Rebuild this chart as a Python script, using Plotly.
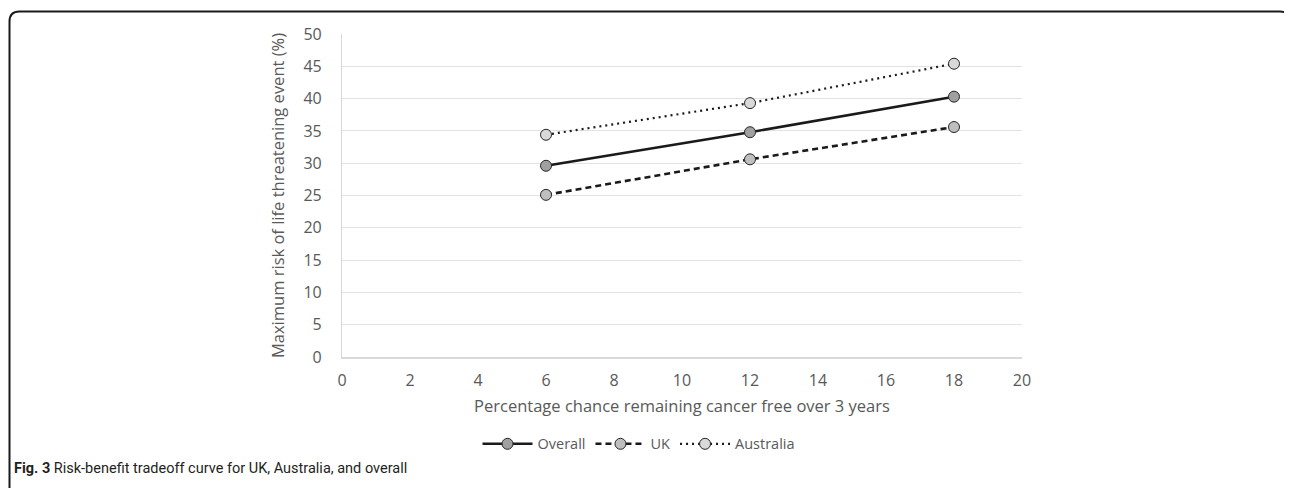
import plotly.graph_objects as go

x_vals = [6, 12, 18]
overall = [29.6, 34.8, 40.3]
uk = [25.1, 30.6, 35.6]
australia = [34.4, 39.3, 45.4]

x_ticks = list(range(0, 21, 2))
y_ticks = list(range(0, 51, 5))

W, H = 1292, 488
OFF = 8  # default page body margin
L, R, T, B = 342 - OFF, 1022 - OFF, 33.6 - OFF, 357 - OFF
pw, ph = R - L, B - T

def px(xp):
    return (xp - OFF - L) / pw

def py(yp):
    return (B - (yp - OFF)) / ph

FONT = "Open Sans"
GRAY = "#595959"

fig = go.Figure()
fig.add_trace(go.Scatter(
    x=x_vals, y=overall, name="Overall", mode="lines+markers",
    line=dict(color="#1a1a1a", width=2.6, dash="solid"),
    marker=dict(size=11, color="#a0a0a0", line=dict(color="#262626", width=1))))
fig.add_trace(go.Scatter(
    x=x_vals, y=uk, name="UK", mode="lines+markers",
    line=dict(color="#1a1a1a", width=2.6, dash="6px,4px"),
    marker=dict(size=11, color="#bfbfbf", line=dict(color="#262626", width=1))))
fig.add_trace(go.Scatter(
    x=x_vals, y=australia, name="Australia", mode="lines+markers",
    line=dict(color="#1a1a1a", width=2.2, dash="2px,4px"),
    marker=dict(size=11, color="#d9d9d9", line=dict(color="#262626", width=1))))

# frame with rounded top corners
r = 10
xl, xr, yt, yb = px(9.5), px(1290), py(11), py(520)
rx, ry = r / pw, r / ph
path = (f"M {xl},{yb} L {xl},{yt - ry} Q {xl},{yt} {xl + rx},{yt} "
        f"L {xr - rx},{yt} Q {xr},{yt} {xr},{yt - ry} L {xr},{yb}")
fig.add_shape(type="path", path=path, xref="paper", yref="paper",
              line=dict(color="#1a1a1a", width=2))

fig.add_annotation(
    text="<b>Fig. 3</b> Risk-benefit tradeoff curve for UK, Australia, and overall",
    xref="paper", yref="paper", x=px(12), y=py(469), xanchor="left", yanchor="middle",
    showarrow=False, font=dict(family="Roboto, sans-serif", size=14.5, color="#231f20"))

fig.update_layout(
    width=W, height=H,
    margin=dict(l=L, r=W - R, t=T, b=H - B, pad=0),
    paper_bgcolor="white", plot_bgcolor="white",
    font=dict(family=FONT, color=GRAY, size=14),
    showlegend=True,
    legend=dict(orientation="h", x=px(639), xanchor="center", y=py(444), yanchor="middle",
                font=dict(family=FONT, size=14.5, color=GRAY), itemwidth=50,
                bgcolor="rgba(0,0,0,0)"),
    xaxis=dict(range=[0, 20], tickvals=x_ticks, showgrid=False, zeroline=False,
               showline=True, linecolor="#d9d9d9", linewidth=1.5,
               ticks="", ticklabelstandoff=8,
               tickfont=dict(family=FONT, size=16, color=GRAY),
               title=dict(text="Percentage chance remaining cancer free over 3 years",
                          font=dict(family=FONT, size=16.5, color=GRAY), standoff=10)),
    yaxis=dict(range=[0, 50], tickvals=y_ticks, showgrid=True, gridcolor="#e3e3e3", gridwidth=1.3,
               zeroline=False, showline=True, linecolor="#d9d9d9", linewidth=1.2,
               ticks="", ticklabelstandoff=16,
               tickfont=dict(family=FONT, size=16, color=GRAY),
               title=dict(text="Maximum risk of life threatening event (%)",
                          font=dict(family=FONT, size=16.5, color=GRAY), standoff=14)),
)

fig.write_html("out.html")
